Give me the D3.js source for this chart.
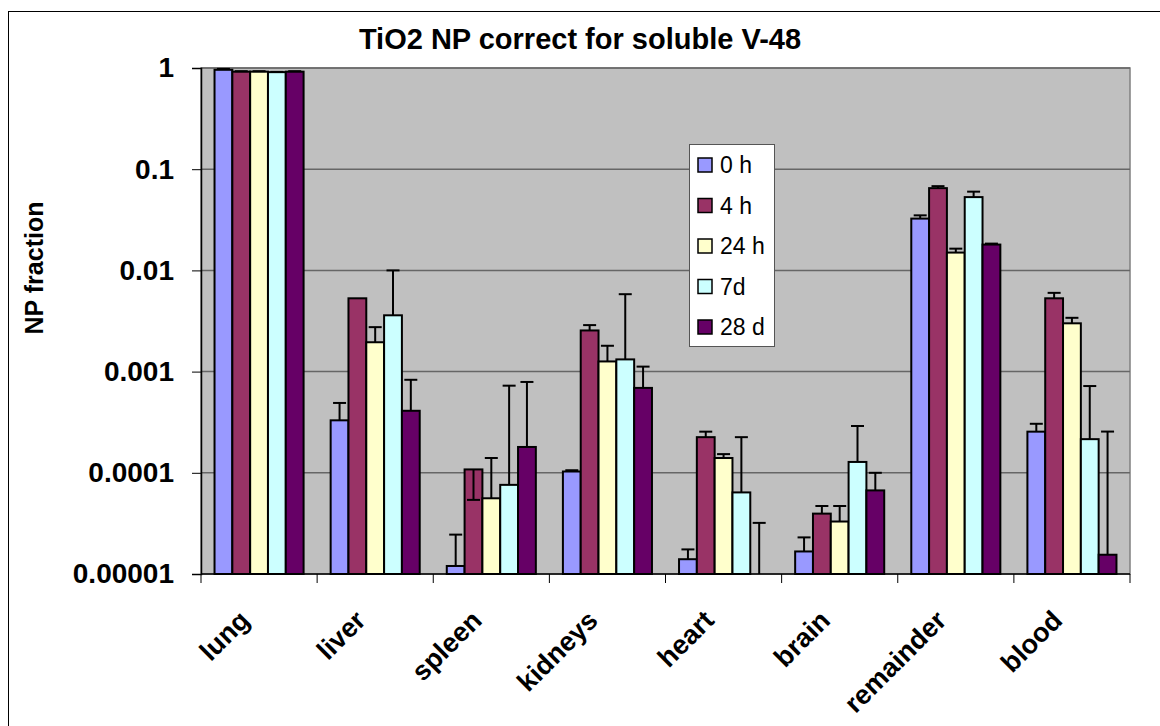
<!DOCTYPE html>
<html>
<head>
<meta charset="utf-8">
<script src="https://cdn.jsdelivr.net/npm/d3@7"></script>
<style>
  body { margin: 0; background: #fff; }
  svg { display: block; font-family: "Liberation Sans", Arial, sans-serif; }
</style>
</head>
<body>
<script>
// categories and series
const organs = ["lung", "liver", "spleen", "kidneys", "heart", "brain", "remainder", "blood"];
const times = ["0 h", "4 h", "24 h", "7d", "28 d"];
const colors = ["#9999FF", "#993366", "#FFFFCC", "#CCFFFF", "#660066"];

// NP fraction per time point (one value per organ)
const h0 = [0.96, 0.00033, 0.000012, 0.000103, 0.000014, 0.0000167, 0.0325, 0.000255];
const h4 = [0.92, 0.0053, 0.000108, 0.00255, 0.000225, 0.0000395, 0.065, 0.0053];
const h24 = [0.92, 0.00195, 0.000056, 0.00126, 0.00014, 0.000033, 0.015, 0.003];
const d7 = [0.91, 0.0036, 0.000076, 0.00132, 0.000064, 0.000128, 0.053, 0.000215];
const d28 = [0.92, 0.00041, 0.00018, 0.00069, 0.000005, 0.000067, 0.018, 0.0000155];

// error bar (plus direction) per time point
const e0 = [0.02, 0.00016, 0.0000125, 0.000003, 0.0000035, 0.0000063, 0.0025, 0.00005];
const e4 = [0.01, 0, -0.000054, 0.00033, 0.00003, 0.0000075, 0.003, 0.0007];
const e24 = [0.01, 0.0008, 0.000084, 0.00054, 0.000013, 0.000014, 0.0014, 0.0004];
const e7 = [0.005, 0.0064, 0.00065, 0.0045, 0.000161, 0.000162, 0.007, 0.000505];
const e28 = [0.01, 0.00042, 0.00061, 0.00043, 0.000027, 0.000033, 0.0004, 0.00024];

const yTicks = [1, 0.1, 0.01, 0.001, 0.0001, 0.00001];
const yTickLabels = ["1", "0.1", "0.01", "0.001", "0.0001", "0.00001"];

const values = [h0, h4, h24, d7, d28];
const errors = [e0, e4, e24, e7, e28];

const W = 1160, H = 726;
const plot = { left: 201, right: 1130, top: 68, bottom: 574 };

const svg = d3.select("body").append("svg").attr("width", W).attr("height", H);

// outer chart border
svg.append("rect")
  .attr("x", 8.5).attr("y", 11.5)
  .attr("width", W + 20).attr("height", H + 20)
  .attr("fill", "#fff").attr("stroke", "#000").attr("stroke-width", 1);

const x0 = d3.scaleBand().domain(organs).range([plot.left, plot.right])
  .paddingInner(0.233).paddingOuter(0.1165);
const x1 = d3.scaleBand().domain(times).range([0, x0.bandwidth()]);
const y = d3.scaleLog().domain([0.00001, 1]).range([plot.bottom, plot.top]);
const yc = v => y(Math.max(v, 0.00001));

// plot area
svg.append("rect")
  .attr("x", plot.left).attr("y", plot.top)
  .attr("width", plot.right - plot.left).attr("height", plot.bottom - plot.top)
  .attr("fill", "#C0C0C0").attr("stroke", "#808080").attr("stroke-width", 1.5);

// gridlines
svg.append("g").selectAll("line").data(yTicks.slice(0, -1)).join("line")
  .attr("x1", plot.left).attr("x2", plot.right)
  .attr("y1", d => y(d)).attr("y2", d => y(d))
  .attr("stroke", "#666").attr("stroke-width", 1.5);

// y axis
const yAxis = svg.append("g").attr("transform", `translate(${plot.left},0)`)
  .call(d3.axisLeft(y).tickValues(yTicks).tickSize(9).tickPadding(18)
    .tickFormat((d, i) => yTickLabels[i]));
yAxis.select(".domain").attr("stroke", "#000").attr("stroke-width", 1.5);
yAxis.selectAll(".tick line").attr("stroke", "#000");
yAxis.selectAll(".tick text")
  .attr("font-size", 28).attr("font-weight", "bold").attr("fill", "#000")
  .attr("font-family", "'Liberation Sans', Arial, sans-serif");

// x axis line and ticks between categories
const xTickPos = organs.map(o => x0(o) - x0.step() * x0.paddingInner() / 2)
  .concat([plot.right]);
svg.append("line")
  .attr("x1", plot.left).attr("x2", plot.right)
  .attr("y1", plot.bottom).attr("y2", plot.bottom)
  .attr("stroke", "#000").attr("stroke-width", 1.5);
svg.append("g").selectAll("line").data(xTickPos).join("line")
  .attr("x1", d => d).attr("x2", d => d)
  .attr("y1", plot.bottom).attr("y2", plot.bottom + 9)
  .attr("stroke", "#000");

// category labels
svg.append("g").selectAll("text").data(organs).join("text")
  .attr("transform", d => `translate(${x0(d) + x0.bandwidth() / 2 - 8},${plot.bottom + 48}) rotate(-45)`)
  .attr("text-anchor", "end")
  .attr("font-size", 27).attr("font-weight", "bold")
  .text(d => d);

// bars
const groups = svg.append("g").selectAll("g").data(times).join("g")
  .attr("fill", (d, i) => colors[i]);

groups.selectAll("rect").data((t, si) => organs.map((o, ci) => ({ o, t, v: values[si][ci] })))
  .join("rect")
  .attr("x", d => x0(d.o) + x1(d.t))
  .attr("y", d => yc(d.v))
  .attr("width", x1.bandwidth())
  .attr("height", d => plot.bottom - yc(d.v))
  .attr("stroke", "#000").attr("stroke-width", 2);

// error bars
const eb = svg.append("g").attr("stroke", "#000").attr("stroke-width", 2);
times.forEach((t, si) => {
  organs.forEach((o, ci) => {
    const v = values[si][ci], e = errors[si][ci];
    if (!e) return;
    const cx = x0(o) + x1(t) + x1.bandwidth() / 2;
    const y0 = yc(v), y1 = yc(v + e);
    eb.append("line").attr("x1", cx).attr("x2", cx).attr("y1", y0).attr("y2", y1);
    eb.append("line").attr("x1", cx - 6.5).attr("x2", cx + 6.5).attr("y1", y1).attr("y2", y1);
  });
});

// title
svg.append("text")
  .attr("x", 580).attr("y", 49)
  .attr("text-anchor", "middle")
  .attr("font-size", 29).attr("font-weight", "bold")
  .text("TiO2 NP correct for soluble V-48");

// y axis title
svg.append("text")
  .attr("transform", "translate(43,268) rotate(-90)")
  .attr("text-anchor", "middle")
  .attr("font-size", 25).attr("font-weight", "bold")
  .text("NP fraction");

// legend
const lg = svg.append("g");
lg.append("rect")
  .attr("x", 689.5).attr("y", 144.5).attr("width", 85).attr("height", 202)
  .attr("fill", "#fff").attr("stroke", "#555").attr("stroke-width", 1);
const items = lg.selectAll("g").data(times).join("g")
  .attr("transform", (d, i) => `translate(698,${165 + i * 40.5})`);
items.append("rect")
  .attr("x", 0).attr("y", -7).attr("width", 14).attr("height", 14)
  .attr("fill", (d, i) => colors[i]).attr("stroke", "#000").attr("stroke-width", 1.5);
items.append("text")
  .attr("x", 22).attr("y", 8)
  .attr("font-size", 23)
  .text(d => d);
</script>
</body>
</html>
